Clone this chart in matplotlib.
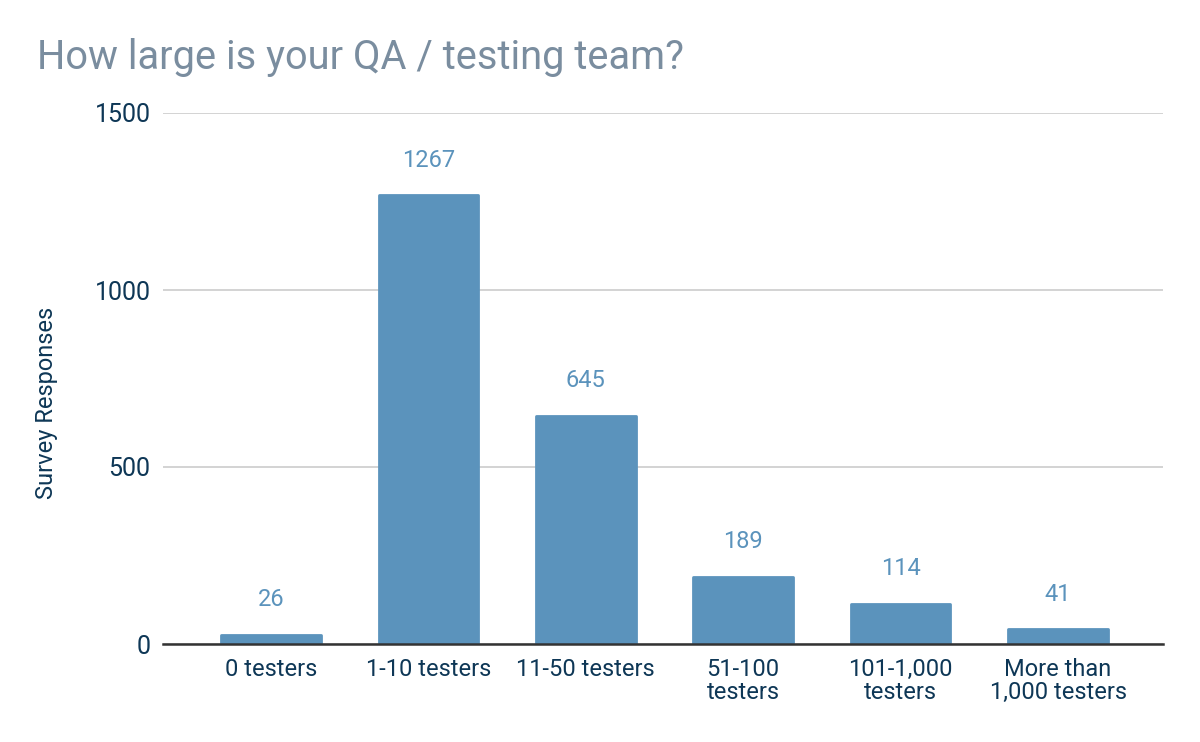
import matplotlib
matplotlib.use("Agg")
import matplotlib.pyplot as plt

categories = ["0 testers", "1-10 testers", "11-50 testers", "51-100\ntesters",
              "101-1,000\ntesters", "More than\n1,000 testers"]
responses = [26, 1267, 645, 189, 114, 41]
y_ticks = [0, 500, 1000, 1500]

title = "How large is your QA / testing team?"
y_label = "Survey Responses"

BAR = "#5b93bc"
TXT = "#0e3756"
TITLE = "#7a8d9f"

plt.rcParams['font.family'] = ['Roboto', 'DejaVu Sans']

fig = plt.figure(figsize=(12, 7.42), dpi=100)
ax = fig.add_axes([163/1200, 1-644/742, 1000/1200, 531/742])

x = list(range(len(categories)))
bars = ax.bar(x, responses, width=0.632, color=BAR, edgecolor=BAR,
              linewidth=2, joinstyle='round', zorder=3)

for xi, v in zip(x, responses):
    ax.annotate(str(v), (xi, v), xytext=(0, 25.5), textcoords='offset points',
                ha='center', va='center', fontsize=17, color=BAR)

ax.set_xlim(-0.686, 5.667)
ax.set_ylim(0, 1500)
ax.set_yticks(y_ticks)
ax.set_yticklabels([str(t) for t in y_ticks])
ax.set_xticks(x)
ax.set_xticklabels(categories, linespacing=1.0)

ax.tick_params(axis='y', length=0, pad=9, labelsize=18, labelcolor=TXT)
ax.tick_params(axis='x', length=0, pad=10, labelsize=17, labelcolor=TXT)

ax.grid(axis='y', color='#cccccc', linewidth=1.2, zorder=0)
ax.set_axisbelow(True)
for s in ['top', 'right', 'left']:
    ax.spines[s].set_visible(False)
ax.spines['bottom'].set_color('#333333')
ax.spines['bottom'].set_linewidth(1.8)
ax.spines['bottom'].set_zorder(4)

ax.set_ylabel(y_label, fontsize=17, color=TXT)
ax.yaxis.set_label_coords(-0.105, 0.454)

fig.text(37/1200, 1-69/742, title, fontsize=28.7, color=TITLE,
         ha='left', va='baseline')

fig.savefig("out.png", dpi=100, facecolor='white')
